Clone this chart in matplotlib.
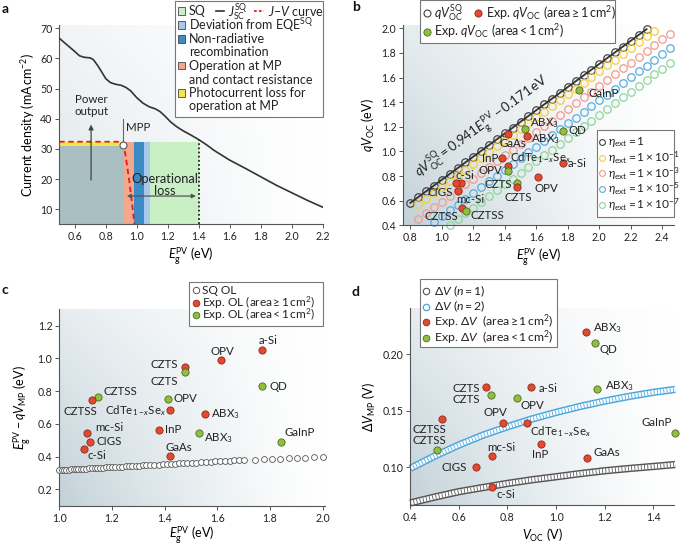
import numpy as np
import matplotlib
matplotlib.use("Agg")
import matplotlib.pyplot as plt
from matplotlib.patches import Rectangle
from matplotlib.lines import Line2D

plt.rcParams['font.family'] = ['Lato', 'DejaVu Sans']
plt.rcParams['mathtext.fontset'] = 'custom'
plt.rcParams['mathtext.rm'] = 'Lato'
plt.rcParams['mathtext.it'] = 'Lato:italic'
plt.rcParams['mathtext.bf'] = 'Lato:bold'

W, H = 685, 546

# ---------------- DATA ----------------
# panel a: SQ short-circuit current density
a_E = [0.50, 0.55, 0.60, 0.63, 0.66, 0.70, 0.72, 0.75, 0.78, 0.80, 0.83, 0.86, 0.90, 0.93, 0.96,
       1.00, 1.04, 1.08, 1.12, 1.15, 1.18, 1.22, 1.26, 1.30, 1.35, 1.40, 1.45, 1.50, 1.60, 1.70,
       1.80, 1.90, 2.00, 2.10, 2.20]
a_J = [66.7, 64.5, 62.3, 60.9, 60.4, 60.2, 59.6, 57.5, 55.0, 53.3, 52.0, 51.5, 51.1, 50.4, 49.3,
       47.0, 45.2, 44.0, 43.3, 42.4, 41.0, 38.9, 37.3, 36.0, 34.6, 33.1, 31.4, 29.5, 26.3, 23.6,
       20.8, 18.0, 15.5, 13.0, 10.7]
# J-V curve
jv_E = [0.50, 0.903, 0.915, 0.929, 0.951, 0.972, 0.985]
jv_J = [32.4, 32.4, 31.2, 27.4, 19.7, 10.9, 4.9]
mpp_E, mpp_J = 0.914, 31.2
# loss bands (edges in eV)
band_edges = [0.5, 0.918, 0.983, 1.047, 1.086, 1.40]
band_top = 32.4
grey_top = 31.1

# panel b
b_E0 = [0.80, 0.85, 0.90, 0.95, 1.00, 1.05, 1.10, 1.15, 1.20, 1.25, 1.30, 1.35, 1.40, 1.45, 1.50, 1.55,
        1.60, 1.65, 1.70, 1.75, 1.80, 1.85, 1.90, 1.95, 2.00, 2.05, 2.10, 2.15, 2.20, 2.25, 2.30]
b_V0 = [0.582, 0.629, 0.676, 0.723, 0.770, 0.817, 0.864, 0.911, 0.958, 1.005, 1.052, 1.099, 1.146,
        1.193, 1.241, 1.288, 1.335, 1.382, 1.429, 1.476, 1.523, 1.570, 1.617, 1.664, 1.711, 1.758,
        1.805, 1.852, 1.899, 1.946, 1.993]
b_E1 = [0.85, 0.90, 0.95, 1.00, 1.05, 1.10, 1.15, 1.20, 1.25, 1.30, 1.35, 1.40, 1.45, 1.50, 1.55, 1.60,
        1.65, 1.70, 1.75, 1.80, 1.85, 1.90, 1.95, 2.00, 2.05, 2.10, 2.15, 2.20, 2.25, 2.30, 2.35]
b_V1 = [0.570, 0.617, 0.664, 0.711, 0.758, 0.805, 0.852, 0.899, 0.946, 0.993, 1.040, 1.087, 1.134,
        1.182, 1.229, 1.276, 1.323, 1.370, 1.417, 1.464, 1.511, 1.558, 1.605, 1.652, 1.699, 1.746,
        1.793, 1.840, 1.887, 1.934, 1.981]
b_E3 = [0.85, 0.90, 0.95, 1.00, 1.05, 1.10, 1.15, 1.20, 1.25, 1.30, 1.35, 1.40, 1.45, 1.50, 1.55, 1.60,
        1.65, 1.70, 1.75, 1.80, 1.85, 1.90, 1.95, 2.00, 2.05, 2.10, 2.15, 2.20, 2.25, 2.30, 2.35, 2.40, 2.45]
b_V3 = [0.451, 0.498, 0.545, 0.592, 0.639, 0.686, 0.733, 0.780, 0.827, 0.874, 0.921, 0.968, 1.015,
        1.063, 1.110, 1.157, 1.204, 1.251, 1.298, 1.345, 1.392, 1.439, 1.486, 1.533, 1.580, 1.627,
        1.674, 1.721, 1.768, 1.815, 1.862, 1.909, 1.956]
b_E5 = [0.95, 1.00, 1.05, 1.10, 1.15, 1.20, 1.25, 1.30, 1.35, 1.40, 1.45, 1.50, 1.55, 1.60, 1.65, 1.70,
        1.75, 1.80, 1.85, 1.90, 1.95, 2.00, 2.05, 2.10, 2.15, 2.20, 2.25, 2.30, 2.35, 2.40, 2.45]
b_V5 = [0.427, 0.474, 0.521, 0.568, 0.615, 0.662, 0.709, 0.756, 0.803, 0.850, 0.897, 0.945, 0.992,
        1.039, 1.086, 1.133, 1.180, 1.227, 1.274, 1.321, 1.368, 1.415, 1.462, 1.509, 1.556, 1.603,
        1.650, 1.697, 1.744, 1.791, 1.838]
b_E7 = [1.05, 1.10, 1.15, 1.20, 1.25, 1.30, 1.35, 1.40, 1.45, 1.50, 1.55, 1.60, 1.65, 1.70, 1.75, 1.80,
        1.85, 1.90, 1.95, 2.00, 2.05, 2.10, 2.15, 2.20, 2.25, 2.30, 2.35, 2.40, 2.45]
b_V7 = [0.403, 0.450, 0.497, 0.544, 0.591, 0.638, 0.685, 0.732, 0.779, 0.827, 0.874, 0.921, 0.968,
        1.015, 1.062, 1.109, 1.156, 1.203, 1.250, 1.297, 1.344, 1.391, 1.438, 1.485, 1.532, 1.579,
        1.626, 1.673, 1.720]

b_names = ['GaInP', 'ABX$_3$', 'ABX$_3$', 'QD', 'GaAs', 'InP', 'CdTe$_{1\u2212x}$Se$_x$', 'a-Si', 'OPV', 'OPV',
           'CZTS', 'CZTS', 'c-Si', 'CIGS', 'mc-Si', 'CZTSS', 'CZTSS']
b_x = [1.873, 1.528, 1.543, 1.768, 1.418, 1.380, 1.418, 1.771, 1.418, 1.613,
       1.479, 1.479, 1.122, 1.090, 1.105, 1.126, 1.152]
b_y = [1.499, 1.180, 1.128, 1.168, 1.139, 0.949, 0.882, 0.909, 0.844, 0.790,
       0.741, 0.714, 0.741, 0.741, 0.681, 0.538, 0.519]
b_grp = ['s', 's', 'l', 's', 'l', 'l', 'l', 'l', 's', 'l', 's', 'l', 'l', 'l', 'l', 'l', 's']

# panel c
c_sqE = [1.000, 1.009, 1.018, 1.027, 1.036, 1.045, 1.054, 1.063, 1.072, 1.081, 1.090,
         1.101, 1.112, 1.123, 1.134, 1.145, 1.156, 1.167, 1.178, 1.189, 1.200,
         1.213, 1.226, 1.239, 1.252, 1.265, 1.278, 1.291, 1.304, 1.317, 1.330,
         1.346, 1.361, 1.377, 1.392, 1.408, 1.423, 1.439, 1.454, 1.470, 1.485,
         1.503, 1.521, 1.539, 1.557, 1.575, 1.593, 1.611, 1.629, 1.647, 1.665, 1.683, 1.701,
         1.745, 1.777, 1.808, 1.840, 1.871, 1.903, 1.934, 1.966, 2.000]
c_sqV = [0.318, 0.319, 0.320, 0.320, 0.321, 0.322, 0.323, 0.324, 0.324, 0.325, 0.326,
         0.327, 0.328, 0.329, 0.330, 0.331, 0.332, 0.333, 0.334, 0.335, 0.336,
         0.337, 0.338, 0.339, 0.340, 0.341, 0.343, 0.344, 0.345, 0.346, 0.347,
         0.349, 0.350, 0.351, 0.353, 0.354, 0.355, 0.357, 0.358, 0.360, 0.361,
         0.363, 0.364, 0.366, 0.367, 0.369, 0.371, 0.372, 0.374, 0.375, 0.377, 0.379, 0.380,
         0.381, 0.384, 0.386, 0.388, 0.390, 0.392, 0.394, 0.396, 0.399]
c_names = ['a-Si', 'OPV', 'CZTS', 'CZTS', 'CZTSS', 'CZTSS', 'OPV', 'CdTe$_{1\u2212x}$Se$_x$', 'ABX$_3$', 'InP',
           'ABX$_3$', 'GaAs', 'mc-Si', 'CIGS', 'c-Si', 'QD', 'GaInP']
c_x = [1.771, 1.616, 1.477, 1.477, 1.148, 1.125, 1.414, 1.420, 1.553, 1.380,
       1.530, 1.420, 1.106, 1.116, 1.094, 1.771, 1.841]
c_y = [1.053, 0.990, 0.950, 0.919, 0.762, 0.746, 0.754, 0.683, 0.658, 0.563,
       0.542, 0.404, 0.542, 0.491, 0.446, 0.831, 0.487]
c_grp = ['l', 'l', 'l', 's', 's', 'l', 's', 'l', 'l', 'l', 's', 'l', 'l', 'l', 'l', 's', 's']

# panel d
d_V = [0.40, 0.50, 0.60, 0.70, 0.80, 0.90, 1.00, 1.10, 1.20, 1.30, 1.40, 1.49]
d_n1 = [0.0685, 0.0737, 0.0785, 0.0822, 0.0858, 0.0890, 0.0917, 0.0945, 0.0970, 0.0990, 0.1008, 0.1025]
d_n2 = [0.0991, 0.1100, 0.1198, 0.1286, 0.1360, 0.1428, 0.1487, 0.1540, 0.1587, 0.1628, 0.1664, 0.1690]
d_names = ['ABX$_3$', 'QD', 'CZTS', 'a-Si', 'ABX$_3$', 'CZTS', 'OPV', 'CZTSS', 'OPV', 'CdTe$_{1\u2212x}$Se$_x$',
           'GaInP', 'CZTSS', 'InP', 'mc-Si', 'GaAs', 'CIGS', 'c-Si']
d_x = [1.123, 1.160, 0.710, 0.897, 1.167, 0.732, 0.838, 0.529, 0.780, 0.881,
       1.489, 0.511, 0.940, 0.735, 1.126, 0.669, 0.736]
d_y = [0.2201, 0.2103, 0.1708, 0.1708, 0.1693, 0.1640, 0.1617, 0.1431, 0.1395, 0.1395,
       0.1307, 0.1153, 0.1209, 0.1103, 0.1080, 0.1003, 0.0823]
d_grp = ['l', 's', 'l', 'l', 's', 's', 's', 'l', 'l', 'l', 's', 's', 'l', 'l', 'l', 'l', 'l']

# ---------------- STYLE / LAYOUT ----------------
RED, RED_E = '#e5482f', '#8a2b1c'
GRN, GRN_E = '#8fbf3e', '#4d6b1f'
SPINE = '#555555'
TICK_FS = 7.6
LAB_FS = 8.3

# label offsets (pixels: dx, dy(up), ha)
b_off = [(9, -4, 'left'), (5, 6, 'left'), (3.4, -3.6, 'left'), (5.6, 0, 'left'), (5, -9, 'center'),
         (-3, -0.5, 'right'), (2, 8, 'left'), (4.4, -0.5, 'left'), (-5, 0, 'right'), (8, -11, 'center'),
         (-5.6, -0.7, 'right'), (0.5, -10.7, 'center'), (-6, 8.3, 'left'), (-2.7, -9, 'right'),
         (-1.6, -8.3, 'left'), (-3.4, -7.7, 'right'), (4.3, -5.3, 'left')]
c_off = [(5.7, 9.7, 'center'), (0.7, 9, 'center'), (-6.7, 2.3, 'right'), (-6.7, -9.3, 'right'),
         (5.7, 5.7, 'left'), (-12.3, -11.7, 'center'), (5, 0, 'left'), (-4, 0, 'right'),
         (5.7, 0, 'left'), (5.7, 0, 'left'), (5, -5, 'left'), (9, 8.3, 'center'), (7.7, 6, 'left'),
         (6.7, 0.7, 'left'), (3.3, -6, 'left'), (7, 0, 'left'), (19, 9.7, 'center')]
d_off = [(7.3, 3.3, 'left'), (5, -6.3, 'left'), (-5.7, -1, 'right'), (7.3, -1, 'left'),
         (8.3, 3, 'left'), (-11, -4, 'right'), (3.3, -8, 'left'), (-12, -10.7, 'center'),
         (-7, 10, 'center'), (2.7, -9.3, 'left'), (-18, 10, 'center'), (-7.7, 10, 'center'),
         (-1, -10.7, 'center'), (10, 8.3, 'center'), (7.3, 6, 'left'), (-9, 0, 'right'), (4.7, -7.3, 'left')]

fig = plt.figure(figsize=(W / 100, H / 100), dpi=100)


def rect_px(x0, x1, ytop, ybot):
    return [x0 / W, 1 - ybot / H, (x1 - x0) / W, (ybot - ytop) / H]


def style_ax(ax):
    for s in ['top', 'right']:
        ax.spines[s].set_visible(False)
    for s in ['left', 'bottom']:
        ax.spines[s].set_color(SPINE)
        ax.spines[s].set_linewidth(0.8)
    ax.tick_params(length=3, width=0.7, color=SPINE, labelsize=TICK_FS, pad=2, labelcolor='#222')


def gradient(ax, strength=1.0):
    n = 200
    u = np.linspace(0, 1, n)[None, :]
    v = np.linspace(1, 0, n)[:, None]
    d = np.clip((1 - u) ** 1.3 * (1 - 0.6 * v), 0, 1) * strength
    dark = np.array([0.76, 0.82, 0.845])
    img = 1 - d[..., None] * (1 - dark[None, None, :])
    ax.imshow(img, extent=[0, 1, 0, 1], transform=ax.transAxes, aspect='auto', zorder=0,
              interpolation='bilinear')


def fig_box(x0, y0, x1, y1):
    fig.add_artist(Rectangle((x0 / W, 1 - y1 / H), (x1 - x0) / W, (y1 - y0) / H,
                             transform=fig.transFigure, fc='white', ec='#777777', lw=0.8, zorder=10))


def fig_txt(x, y, s, fs=8.3, **kw):
    fig.text(x / W, 1 - y / H, s, fontsize=fs, va='center', ha='left', zorder=11, color='#222', **kw)


def fig_mark(x, y, **kw):
    fig.add_artist(Line2D([x / W], [1 - y / H], transform=fig.transFigure, ls='none', zorder=11, **kw))


def fig_patch(x, y, color):
    fig.add_artist(Rectangle(((x - 3.5) / W, 1 - (y + 3.8) / H), 7 / W, 7.6 / H, transform=fig.transFigure,
                             fc=color, ec='#444444', lw=0.6, zorder=11))


def label_points(ax, names, xs, ys, offs, fs=LAB_FS):
    for nm, x, y, (dx, dy, ha) in zip(names, xs, ys, offs):
        ax.annotate(nm, (x, y), xytext=(dx * 0.72, dy * 0.72), textcoords='offset points',
                    ha=ha, va='center', fontsize=fs, color='#222', zorder=6)


def scatter_groups(ax, xs, ys, grps, ms=5.2):
    for x, y, g in zip(xs, ys, grps):
        fc, ec = (RED, RED_E) if g == 'l' else (GRN, GRN_E)
        ax.plot([x], [y], 'o', ms=ms, mfc=fc, mec=ec, mew=0.6, zorder=5, clip_on=False)


# ================= panel a =================
axA = fig.add_axes(rect_px(59.3, 322.7, 25.3, 224.4))
style_ax(axA)
gradient(axA, 0.55)
axA.set_xlim(0.5, 2.2)
axA.set_ylim(5, 71)
axA.set_xticks([0.6, 0.8, 1.0, 1.2, 1.4, 1.6, 1.8, 2.0, 2.2])
axA.set_yticks([10, 20, 30, 40, 50, 60, 70])
band_cols = ['#a9bfc1', '#f4a78f', '#3d8bc5', '#a9c9ea', '#c9efc4']
for i, col in enumerate(band_cols):
    top = grey_top if i == 0 else band_top
    axA.add_patch(Rectangle((band_edges[i], 5), band_edges[i + 1] - band_edges[i], top - 5,
                            fc=col, ec='none', zorder=1))
axA.add_patch(Rectangle((band_edges[0], grey_top), band_edges[1] - band_edges[0], band_top - grey_top,
                        fc='#f3e64c', ec='none', zorder=1))
axA.plot([band_edges[-1], band_edges[-1]], [5, 33.1], color='#222', ls=(0, (1, 1.3)), lw=1.3, zorder=3)
axA.plot(a_E, a_J, color='#333', lw=1.2, zorder=4)
axA.plot(jv_E, jv_J, color='#e0201b', lw=1.3, ls=(0, (3, 2)), zorder=4)
axA.plot([mpp_E, mpp_E], [mpp_J, 40], color='#666', lw=0.8, zorder=3)
axA.plot([mpp_E], [mpp_J], 'o', ms=5, mfc='white', mec='#555', mew=0.8, zorder=6)
axA.text(0.933, 37.2, 'MPP', fontsize=8.3, color='#222', va='center', ha='left')
axA.annotate('', xy=(0.705, 39.0), xytext=(0.705, 18.8),
             arrowprops=dict(arrowstyle='-|>', color='#444', lw=0.9, mutation_scale=7), zorder=5)
axA.text(0.705, 44.3, 'Power\noutput', fontsize=8.3, color='#222', ha='center', va='center',
         linespacing=1.1)
axA.annotate('', xy=(0.918, 14.4), xytext=(1.40, 14.4),
             arrowprops=dict(arrowstyle='<|-|>', color='#555', lw=0.9, mutation_scale=6), zorder=5)
axA.text(1.18, 18.0, 'Operational\nloss', fontsize=9.3, color='#222', ha='center', va='center',
         linespacing=1.0, zorder=6)
axA.set_xlabel('$E_{\\mathrm{g}}^{\\mathrm{PV}}$ (eV)', fontsize=LAB_FS + 0.7, labelpad=2)
axA.set_ylabel('Current density (mA\u2009cm$^{-2}$)', fontsize=LAB_FS + 0.7, labelpad=2)

# legend a
fig_box(175, 0.5, 322.7, 117.3)
fig_patch(181.5, 11, '#c9efc4')
fig_txt(189, 11, 'SQ', fs=9)
fig.add_artist(Line2D([216 / W, 224 / W], [1 - 11 / H] * 2, transform=fig.transFigure, color='#333',
                      lw=1.2, zorder=11))
fig_txt(227.5, 11.5, '$J_{\\mathrm{SC}}^{\\mathrm{SQ}}$', fs=9)
fig.add_artist(Line2D([254 / W, 264 / W], [1 - 11 / H] * 2, transform=fig.transFigure, color='#e0201b',
                      lw=1.3, ls=(0, (1.5, 1.2)), zorder=11))
fig_txt(268, 11, '$J$\u2013$V$ curve', fs=9)
fig_patch(181.5, 25, '#a9c9ea')
fig_txt(189, 25, 'Deviation from EQE$^{\\mathrm{SQ}}$', fs=9)
fig_patch(181.5, 39, '#3d8bc5')
fig_txt(189, 39, 'Non-radiative', fs=9)
fig_txt(189, 52.5, 'recombination', fs=9)
fig_patch(181.5, 65.5, '#f4a78f')
fig_txt(189, 65.5, 'Operation at MP', fs=9)
fig_txt(189, 79.5, 'and contact resistance', fs=9)
fig_patch(181.5, 93, '#f3e64c')
fig_txt(189, 93, 'Photocurrent loss for', fs=9)
fig_txt(189, 106.5, 'operation at MP', fs=9)

# ================= panel b =================
axB = fig.add_axes(rect_px(403.3, 674.3, 24.6, 225.3))
style_ax(axB)
gradient(axB, 1.0)
axB.set_xlim(0.7556, 2.476)
axB.set_ylim(0.4, 2.03)
axB.set_xticks([0.8, 1.0, 1.2, 1.4, 1.6, 1.8, 2.0, 2.2, 2.4])
axB.set_yticks([0.4, 0.6, 0.8, 1.0, 1.2, 1.4, 1.6, 1.8, 2.0])
eta_cols = ['#444444', '#f5cd3c', '#f29b8d', '#58ade0', '#8fd59c']
series_b = [(b_E0, b_V0), (b_E1, b_V1), (b_E3, b_V3), (b_E5, b_V5), (b_E7, b_V7)]
for (ex, vy), col in zip(series_b, eta_cols):
    axB.plot(ex, vy, 'o', ms=5.4, mfc='none', mec=col, mew=0.9, zorder=2, clip_on=False)
axB.plot(b_E0, b_V0, color='#333', lw=1.3, zorder=3)
ang = np.degrees(np.arctan(0.941 * 123.1 / 157.5))
axB.text(1.255, 1.205, '$qV_{\\mathrm{OC}}^{\\mathrm{SQ}}=0.941E_{\\mathrm{g}}^{\\mathrm{PV}}\u22120.171$\u2009eV',
         rotation=ang, rotation_mode='anchor', ha='center', va='center', fontsize=9.6, color='#222', zorder=4)
scatter_groups(axB, b_x, b_y, b_grp, ms=5.2)
label_points(axB, b_names, b_x, b_y, b_off)
axB.set_xlabel('$E_{\\mathrm{g}}^{\\mathrm{PV}}$ (eV)', fontsize=LAB_FS + 0.7, labelpad=2)
axB.set_ylabel('$qV_{\\mathrm{OC}}$ (eV)', fontsize=LAB_FS + 0.7, labelpad=3)

fig_box(420, 0.5, 615, 43)
fig_mark(426.5, 12.5, marker='o', ms=5, mfc='white', mec='#444', mew=0.8)
fig_txt(434, 13, '$qV_{\\mathrm{OC}}^{\\mathrm{SQ}}$', fs=9)
fig_mark(478, 12.5, marker='o', ms=5.2, mfc=RED, mec=RED_E, mew=0.6)
fig_txt(486, 13, 'Exp. $qV_{\\mathrm{OC}}$ (area\u2009\u2265\u20091\u2009cm$^2$)', fs=9)
fig_mark(426.5, 31.5, marker='o', ms=5.2, mfc=GRN, mec=GRN_E, mew=0.6)
fig_txt(434, 31.5, 'Exp. $qV_{\\mathrm{OC}}$ (area\u2009<\u20091\u2009cm$^2$)', fs=9)

fig_box(596.5, 130.5, 674.3, 217)
eta_labels = ['$\\eta_{\\mathrm{ext}}=1$', '$\\eta_{\\mathrm{ext}}=1\\times10^{-1}$',
              '$\\eta_{\\mathrm{ext}}=1\\times10^{-3}$', '$\\eta_{\\mathrm{ext}}=1\\times10^{-5}$',
              '$\\eta_{\\mathrm{ext}}=1\\times10^{-7}$']
for i, (lab, col) in enumerate(zip(eta_labels, eta_cols)):
    yy = 141.7 + i * 15.8
    fig_mark(602, yy, marker='o', ms=4.2, mfc='none', mec=col, mew=0.8)
    fig_txt(608, yy, lab, fs=8.6)

# ================= panel c =================
axC = fig.add_axes(rect_px(59.3, 325.2, 309.4, 505.7))
style_ax(axC)
gradient(axC, 1.0)
axC.set_xlim(1.0, 2.01)
axC.set_ylim(0.1, 1.3)
axC.set_xticks([1.0, 1.2, 1.4, 1.6, 1.8, 2.0])
axC.set_yticks([0.2, 0.4, 0.6, 0.8, 1.0, 1.2])
axC.plot(c_sqE, c_sqV, 'o', ms=4.2, mfc='white', mec='#555', mew=0.6, zorder=3, clip_on=False)
scatter_groups(axC, c_x, c_y, c_grp, ms=5.2)
label_points(axC, c_names, c_x, c_y, c_off)
axC.set_xlabel('$E_{\\mathrm{g}}^{\\mathrm{PV}}$ (eV)', fontsize=LAB_FS + 0.7, labelpad=0.5)
axC.set_ylabel('$E_{\\mathrm{g}}^{\\mathrm{PV}}\u2212qV_{\\mathrm{MP}}$ (eV)', fontsize=LAB_FS + 0.7, labelpad=3)

fig_box(189.3, 281.7, 322.7, 325.7)
fig_mark(195.5, 290, marker='o', ms=4.6, mfc='white', mec='#555', mew=0.7)
fig_txt(201.5, 290, 'SQ OL', fs=8.6)
fig_mark(195.5, 302.5, marker='o', ms=4.8, mfc=RED, mec=RED_E, mew=0.6)
fig_txt(201.5, 302.5, 'Exp. OL (area\u2009\u2265\u20091\u2009cm$^2$)', fs=8.6)
fig_mark(195.5, 315, marker='o', ms=4.8, mfc=GRN, mec=GRN_E, mew=0.6)
fig_txt(201.5, 315, 'Exp. OL (area\u2009<\u20091\u2009cm$^2$)', fs=8.6)

# ================= panel d =================
axD = fig.add_axes(rect_px(410.3, 674.4, 308.4, 505))
style_ax(axD)
gradient(axD, 1.0)
axD.set_xlim(0.4, 1.487)
axD.set_ylim(0.0667, 0.2407)
axD.set_xticks([0.4, 0.6, 0.8, 1.0, 1.2, 1.4])
axD.set_yticks([0.10, 0.15, 0.20])
axD.set_yticklabels(['0.10', '0.15', '0.20'])
for ys, col in [(d_n1, '#555555'), (d_n2, '#4aa6dc')]:
    axD.plot(d_V, ys, color=col, lw=5.3, solid_capstyle='butt', zorder=2, clip_on=False)
    axD.plot(d_V, ys, color='white', lw=3.2, solid_capstyle='butt', zorder=2, clip_on=False)
    axD.plot(d_V, ys, color=col, lw=3.2, ls=(0, (0.18, 0.55)), zorder=2, clip_on=False)
scatter_groups(axD, d_x, d_y, d_grp, ms=5.2)
label_points(axD, d_names, d_x, d_y, d_off)
axD.set_xlabel('$V_{\\mathrm{OC}}$ (V)', fontsize=LAB_FS + 0.7, labelpad=3)
axD.set_ylabel('$\\Delta V_{\\mathrm{MP}}$ (V)', fontsize=LAB_FS + 0.7, labelpad=3)

fig_box(420, 279, 557.3, 347.3)
fig_mark(426, 291, marker='o', ms=4.6, mfc='white', mec='#555', mew=0.8)
fig_txt(433.5, 291, '$\\Delta V$ ($n$\u2009=\u20091)', fs=8.8)
fig_mark(426, 306.5, marker='o', ms=4.6, mfc='white', mec='#4aa6dc', mew=0.9)
fig_txt(433.5, 306.5, '$\\Delta V$ ($n$\u2009=\u20092)', fs=8.8)
fig_mark(426, 322, marker='o', ms=4.8, mfc=RED, mec=RED_E, mew=0.6)
fig_txt(433.5, 322, 'Exp. $\\Delta V$  (area\u2009\u2265\u20091\u2009cm$^2$)', fs=8.8)
fig_mark(426, 337.5, marker='o', ms=4.8, mfc=GRN, mec=GRN_E, mew=0.6)
fig_txt(433.5, 337.5, 'Exp. $\\Delta V$  (area\u2009<\u20091\u2009cm$^2$)', fs=8.8)

# panel letters
for s, x, y in [('a', 2, 9), ('b', 352, 7), ('c', 2, 290), ('d', 352, 292)]:
    fig.text(x / W, 1 - y / H, s, fontsize=10, fontweight='bold', va='center', ha='left', color='#111')

fig.savefig('out.png', dpi=100)
